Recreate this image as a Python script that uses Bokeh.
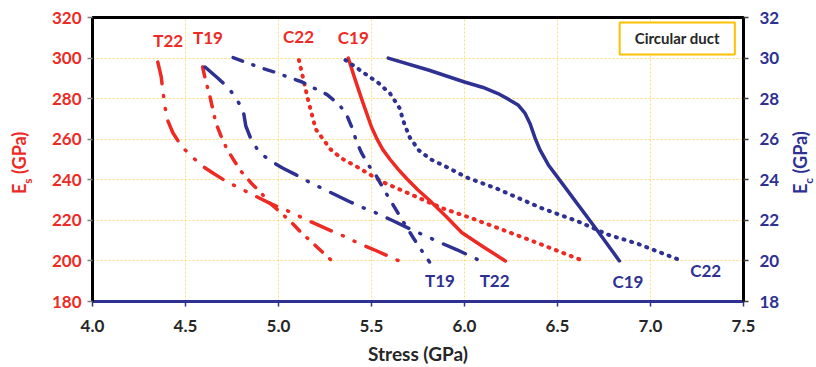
from bokeh.plotting import figure
from bokeh.models import Range1d, LinearAxis, Label, FixedTicker, NumeralTickFormatter, Div
from bokeh.layouts import row
from bokeh.core.properties import value
from bokeh.embed import file_html
from bokeh.resources import INLINE

RED = "#EE2A24"
BLUE = "#2E3192"
DARK = "#262626"

# ---------------- data ----------------
x_ticks = [4.0, 4.5, 5.0, 5.5, 6.0, 6.5, 7.0, 7.5]
es_ticks = [180, 200, 220, 240, 260, 280, 300, 320]
ec_ticks = [18, 20, 22, 24, 26, 28, 30, 32]

# Es curves (left axis, GPa)
red_c19_x = [5.375, 5.41, 5.45, 5.50, 5.53, 5.56, 5.60, 5.645, 5.69, 5.75, 5.81, 5.90, 5.985, 6.10, 6.22]
red_c19_y = [300, 290, 279, 266, 260, 255, 250, 245, 240.5, 235, 230, 222, 214, 207, 200]

red_c22_x = [5.11, 5.13, 5.16, 5.18, 5.20, 5.24, 5.28, 5.34, 5.42, 5.52, 5.57, 5.72, 5.88, 6.04, 6.20, 6.36, 6.50, 6.64]
red_c22_y = [299, 291, 279, 272, 265, 260, 255, 250.5, 246.5, 241, 238.5, 232.5, 226, 221, 215.5, 210, 205, 200]

red_t19_x = [4.592, 4.61, 4.628, 4.646, 4.663, 4.689, 4.721, 4.765, 4.80, 4.854, 4.908, 4.943, 5.015, 5.077, 5.122, 5.181, 5.238, 5.288]
red_t19_y = [295.6, 288.2, 282.5, 275.1, 268.1, 262.0, 255.5, 248.9, 244.0, 238.3, 233.4, 229.3, 223.6, 218.3, 214.0, 209.1, 204.2, 200.0]

red_t22_x = [4.351, 4.369, 4.387, 4.40, 4.432, 4.48, 4.582, 4.649, 4.721, 4.792, 4.952, 5.0, 5.077, 5.149, 5.291, 5.363, 5.434, 5.514, 5.648]
red_t22_y = [298.0, 291.0, 277.6, 270.2, 263.2, 256.3, 247.3, 243.2, 239.1, 235.8, 228.5, 226.5, 223.6, 220.3, 214.5, 211.8, 208.5, 205.5, 200.0]

# Ec curves (right axis, GPa)
blue_c19_x = [5.59, 5.81, 6.00, 6.10, 6.18, 6.24, 6.29, 6.326, 6.352, 6.38, 6.406, 6.451, 6.504, 6.60, 6.718, 6.833]
blue_c19_y = [30.0, 29.4, 28.82, 28.55, 28.25, 27.95, 27.67, 27.27, 26.78, 26.04, 25.47, 24.73, 24.08, 22.9, 21.45, 20.0]

blue_c22_x = [5.36, 5.47, 5.54, 5.60, 5.65, 5.675, 5.705, 5.755, 5.82, 5.90, 6.01, 6.17, 6.29, 6.415, 6.61, 6.77, 6.93, 7.17]
blue_c22_y = [29.9, 29.2, 28.75, 28.25, 27.55, 26.8, 26.1, 25.45, 25.0, 24.65, 24.12, 23.58, 23.1, 22.6, 21.95, 21.3, 20.85, 20.0]

blue_t19_x = [4.756, 4.836, 4.908, 4.979, 5.05, 5.127, 5.184, 5.261, 5.323, 5.363, 5.395, 5.42, 5.448, 5.487, 5.523, 5.568, 5.607, 5.664, 5.728, 5.773, 5.812]
blue_t19_y = [30.02, 29.75, 29.51, 29.31, 29.07, 28.82, 28.55, 28.2, 27.73, 27.27, 26.58, 25.87, 25.3, 24.68, 24.24, 23.5, 22.9, 22.03, 21.09, 20.47, 19.95]

blue_t22_x = [4.605, 4.67, 4.729, 4.768, 4.81, 4.824, 4.854, 4.899, 4.958, 5.024, 5.095, 5.166, 5.243, 5.38, 5.448, 5.526, 5.604, 5.737, 5.808, 5.883, 5.96, 6.097]
blue_t22_y = [29.56, 29.04, 28.55, 28.07, 27.43, 26.66, 25.96, 25.33, 24.93, 24.57, 24.24, 23.88, 23.54, 22.93, 22.65, 22.36, 22.03, 21.45, 21.16, 20.85, 20.55, 19.95]

# curve name labels
red_names = ["T22", "T19", "C22", "C19"]
red_name_x = [4.407, 4.621, 5.108, 5.402]
red_name_y = [308.7, 310.2, 310.6, 310.2]
blue_names = ["T19", "T22", "C19", "C22"]
blue_name_x = [5.868, 6.162, 6.879, 7.297]
blue_name_y = [19.03, 19.03, 18.98, 19.52]

# ---------------- figure ----------------
p = figure(width=748, height=367, output_backend="svg", toolbar_location=None,
           x_range=Range1d(4.0, 7.5), y_range=Range1d(180, 320),
           min_border_left=58, min_border_right=36, min_border_top=17, min_border_bottom=65)
p.extra_y_ranges = {"ec": Range1d(18, 32)}
p.background_fill_color = "white"
p.border_fill_color = "white"
p.outline_line_color = "black"
p.outline_line_width = 3

# grids
for g in (p.xgrid, p.ygrid):
    g.grid_line_color = "#FFD24D"
    g.grid_line_alpha = 0.75
    g.grid_line_width = 1
    g.grid_line_dash = "2 2"
p.xgrid.ticker = FixedTicker(ticks=x_ticks)
p.ygrid.ticker = FixedTicker(ticks=es_ticks)

# bottom axis
xa = p.xaxis[0]
xa.ticker = FixedTicker(ticks=x_ticks)
xa.formatter = NumeralTickFormatter(format="0.0")
xa.axis_line_color = BLUE
xa.axis_line_width = 3
xa.major_tick_line_color = BLUE
xa.major_tick_line_width = 1.5
xa.major_tick_out = 5
xa.major_tick_in = 0
xa.minor_tick_line_color = None
xa.major_label_text_font = "Lato"
xa.major_label_text_font_style = "bold"
xa.major_label_text_font_size = "17px"
xa.major_label_text_color = DARK
xa.major_label_standoff = 13
xa.axis_label = "Stress (GPa)"
xa.axis_label_text_font = "Lato"
xa.axis_label_text_font_style = "bold"
xa.axis_label_text_font_size = "19px"
xa.axis_label_text_color = DARK
xa.axis_label_standoff = 7

# left axis
ya = p.yaxis[0]
ya.ticker = FixedTicker(ticks=es_ticks)
ya.axis_line_color = "black"
ya.axis_line_width = 3
ya.major_tick_line_color = "#808080"
ya.major_tick_line_width = 1.5
ya.major_tick_out = 5
ya.major_tick_in = 0
ya.minor_tick_line_color = None
ya.major_label_text_font = "Lato"
ya.major_label_text_font_style = "bold"
ya.major_label_text_font_size = "17px"
ya.major_label_text_color = RED
ya.major_label_standoff = 6

# right axis
ra = LinearAxis(y_range_name="ec")
ra.ticker = FixedTicker(ticks=ec_ticks)
ra.axis_line_color = "black"
ra.axis_line_width = 3
ra.major_tick_line_color = "#404040"
ra.major_tick_line_width = 1.5
ra.major_tick_out = 5
ra.major_tick_in = 0
ra.minor_tick_line_color = None
ra.major_label_text_font = "Lato"
ra.major_label_text_font_style = "bold"
ra.major_label_text_font_size = "17px"
ra.major_label_text_color = BLUE
ra.major_label_standoff = 11
p.add_layout(ra, "right")

# ---------------- curves ----------------
p.line(red_t22_x, red_t22_y, color=RED, line_width=3.5, line_dash="22 12 1 12 1 12", line_cap="round", line_join="round")
p.line(red_t19_x, red_t19_y, color=RED, line_width=3.5, line_dash="10 10 1 10", line_cap="round", line_join="round")
p.line(red_c22_x, red_c22_y, color=RED, line_width=4, line_dash="1 7", line_cap="round", line_join="round")
p.line(red_c19_x, red_c19_y, color=RED, line_width=3.5, line_cap="round", line_join="round")

p.line(blue_t22_x, blue_t22_y, color=BLUE, line_width=3.5, line_dash="24 12 1 12 1 12", line_cap="round", line_join="round", y_range_name="ec")
p.line(blue_t19_x, blue_t19_y, color=BLUE, line_width=3.5, line_dash="10 11 1 11", line_cap="round", line_join="round", y_range_name="ec")
p.line(blue_c22_x, blue_c22_y, color=BLUE, line_width=4, line_dash="1 7", line_cap="round", line_join="round", y_range_name="ec")
p.line(blue_c19_x, blue_c19_y, color=BLUE, line_width=3.5, line_cap="round", line_join="round", y_range_name="ec")

# curve names
p.text(x=red_name_x, y=red_name_y, text=red_names, text_font=value("Lato"), text_font_style="bold",
       text_font_size="17px", text_color=RED, text_align="center", text_baseline="middle")
p.text(x=blue_name_x, y=blue_name_y, text=blue_names, text_font=value("Lato"), text_font_style="bold",
       text_font_size="17px", text_color=BLUE, text_align="center", text_baseline="middle",
       y_range_name="ec")

# legend-like box
p.add_layout(Label(x=7.144, y=309.7, text="Circular duct", text_align="center", text_baseline="middle",
                   text_font="Lato", text_font_style="bold", text_font_size="15px", text_color=DARK,
                   border_line_color="#FFC000", border_line_width=2, background_fill_color="white",
                   padding=(15, 7)))

# ---------------- rotated axis titles with subscripts ----------------
def title_html(sub, color, dx):
    return (
        f'<div style="width:80px;height:18px;line-height:18px;white-space:nowrap;'
        f'font-family:Lato;font-weight:bold;font-size:18px;color:{color};'
        f'transform-origin:0 0;transform:translate({dx}px,194px) rotate(-90deg);">'
        f'E<span style="font-size:12px;vertical-align:-6px;">{sub}</span>&nbsp;(GPa)</div>'
    )

left_title = Div(text=title_html("s", RED, 10), width=34, height=367, margin=0)
right_title = Div(text=title_html("c", BLUE, 9), width=34, height=367, margin=0)

layout = row(left_title, p, right_title)

open("out.html", "w").write(file_html(layout, INLINE))
